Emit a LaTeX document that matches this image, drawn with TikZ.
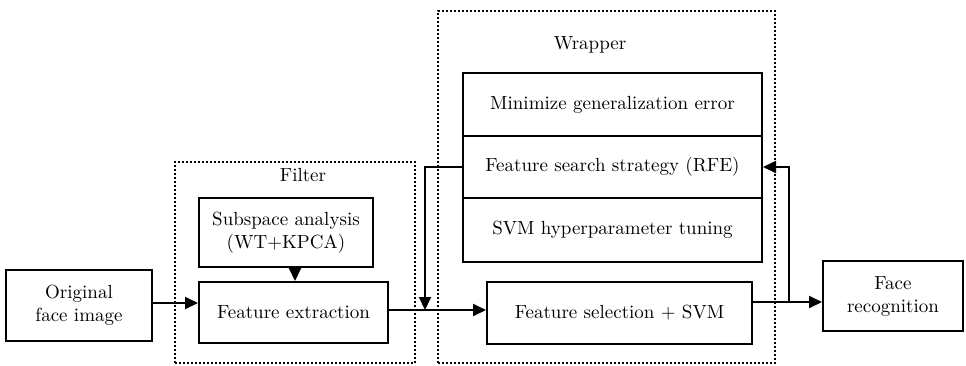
\documentclass[tikz,border=0pt]{standalone}
\usepackage{tikz}
\usetikzlibrary{calc,positioning,arrows.meta}
\tikzset{blk/.style={draw,line width=1pt,rectangle,inner sep=0pt,align=center,text=black},grp/.style={draw,line width=1pt,dash pattern=on 1pt off 1pt,rectangle,inner sep=0pt},lnk/.style={line width=1pt,-{Triangle[length=6.5pt,width=6pt]}}}

\begin{document}
\begin{tikzpicture}[x=0.5pt,y=-0.5pt,font=\fontsize{9.5}{11.5}\selectfont]
		\useasboundingbox (0,0) rectangle (966,365);
		\node[grp,minimum width=120pt,minimum height=100.5pt] (filter) at (295,262.5) {};
		\node (filterlbl) at (303,175) {Filter};
		\node[grp,minimum width=168.5pt,minimum height=176pt] (wrapper) at (606.5,187) {};
		\node (wrapperlbl) at (590,45) {Wrapper};
		\node[blk,minimum width=73pt,minimum height=35.5pt] (orig) at (79,305.5) {Original\\face image};
		\node[blk,minimum width=87pt,minimum height=34.5pt] (sub) at (286,232.5) {Subspace analysis\\(WT+KPCA)};
		\node[blk,minimum width=94.5pt,minimum height=30.5pt] (fext) at (293.5,312.5) {Feature extraction};
		\node[blk,minimum width=149.5pt,minimum height=31.5pt] (minerr) at (612.5,104.5) {Minimize generalization error};
		\node[blk,minimum width=149.5pt,minimum height=31pt] (srch) at (612.5,167) {Feature search strategy (RFE)};
		\node[blk,minimum width=149.5pt,minimum height=32pt] (tune) at (612.5,230) {SVM hyperparameter tuning};
		\node[blk,minimum width=132.5pt,minimum height=31pt] (fsel) at (619.5,313) {Feature selection + SVM};
		\node[blk,minimum width=70pt,minimum height=35pt] (face) at (893,296) {Face\\recognition};
		\coordinate (j) at (425,310);
		\coordinate (k) at (789,302);
		\draw[lnk] (orig.east |- 0,303) -- (fext.west |- 0,303);
		\draw[lnk] (sub.south -| 295,0) -- (fext.north -| 295,0);
		\draw[lnk] (fext.east |- j) -- (fsel.west |- j);
		\draw[lnk] (srch.west) -| (j);
		\draw[lnk] (fsel.east |- k) -- (face.west |- k);
		\draw[lnk] (k) |- (srch.east);
	\end{tikzpicture}
\end{document}
